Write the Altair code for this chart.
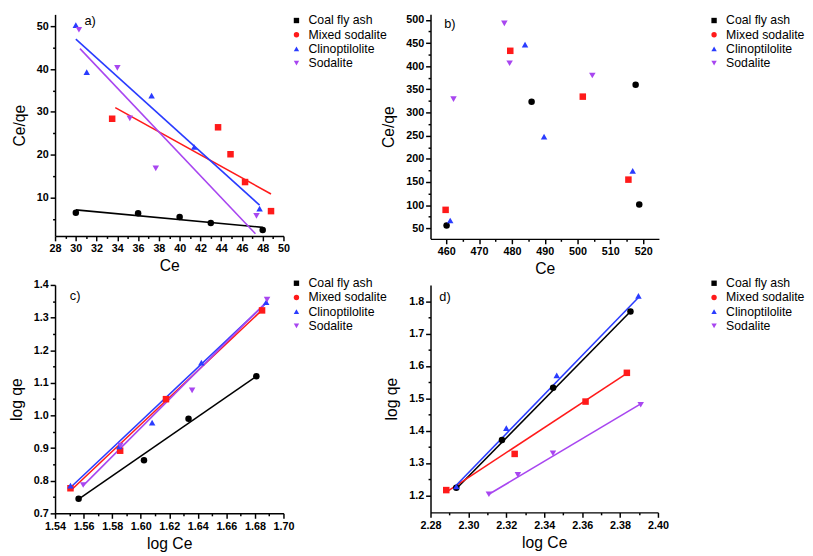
import json
import altair as alt
import pandas as pd

series = ["Coal fly ash", "Mixed sodalite", "Clinoptilolite", "Sodalite"]
colors = ["#000000", "#ff1a1a", "#2a3cff", "#a846f0"]
plot_shapes = ["circle", "square", "triangle-up", "triangle-down"]
legend_shapes = ["square", "circle", "triangle-up", "triangle-down"]

# ---- panel a) Ce vs Ce/qe ----
a_x = [[30, 36, 40, 43, 48],
       [33.5, 43.7, 44.9, 46.3, 48.8],
       [30.0, 31.05, 37.3, 41.4, 47.7],
       [30.3, 34.0, 35.2, 37.7, 47.4]]
a_y = [[6.4, 6.3, 5.4, 4.0, 2.4],
       [28.4, 26.4, 20.1, 13.6, 6.8],
       [50.3, 39.3, 33.8, 21.8, 7.4],
       [49.2, 40.3, 28.5, 16.8, 5.7]]
a_fit_x = [[30, 48], [33.8, 48.8], [30.0, 47.7], [30.4, 47.3]]
a_fit_y = [[7.1, 3.0], [31.0, 10.8], [47.0, 8.2], [44.8, 1.5]]

# ---- panel b) Ce vs Ce/qe ----
b_x = [[460.1, 486.0, 517.7, 518.8],
       [459.8, 479.5, 501.6, 515.5],
       [461.2, 484.0, 489.8, 516.8],
       [462.2, 477.7, 479.3, 504.5]]
b_y = [[56, 323.5, 360, 101],
       [89.7, 433.3, 334.3, 155],
       [66.8, 446.8, 248, 174],
       [329, 492.6, 406.4, 380]]

# ---- panel c) log Ce vs log qe ----
c_x = [[1.5565, 1.6023, 1.6335, 1.681],
       [1.5508, 1.5856, 1.6177, 1.685],
       [1.5508, 1.585, 1.608, 1.6425, 1.6879],
       [1.5597, 1.5857, 1.636, 1.6885]]
c_y = [[0.745, 0.863, 0.99, 1.12],
       [0.777, 0.892, 1.05, 1.322],
       [0.785, 0.905, 0.978, 1.162, 1.347],
       [0.787, 0.908, 1.077, 1.355]]
c_fit_x = [[1.556, 1.681], [1.551, 1.685], [1.551, 1.688], [1.5597, 1.6885]]
c_fit_y = [[0.742, 1.12], [0.77, 1.323], [0.78, 1.345], [0.785, 1.35]]

# ---- panel d) log Ce vs log qe ----
d_x = [[2.2936, 2.3177, 2.3447, 2.3855],
       [2.2883, 2.3244, 2.3618, 2.3836],
       [2.2936, 2.32, 2.3466, 2.3897],
       [2.3108, 2.3261, 2.3446, 2.3909]]
d_y = [[1.223, 1.371, 1.533, 1.769],
       [1.216, 1.328, 1.49, 1.579],
       [1.227, 1.408, 1.571, 1.817],
       [1.203, 1.263, 1.33, 1.48]]
d_fit_x = [[2.2936, 2.3855], [2.2883, 2.3836], [2.2936, 2.3897], [2.3108, 2.3909]]
d_fit_y = [[1.220, 1.769], [1.21, 1.577], [1.231, 1.812], [1.203, 1.483]]

# ---- tick values ----
a_xmaj = [28, 30, 32, 34, 36, 38, 40, 42, 44, 46, 48, 50]
a_xmin = [29, 31, 33, 35, 37, 39, 41, 43, 45, 47, 49]
a_ymaj = [10, 20, 30, 40, 50]
a_ymin = [5, 15, 25, 35, 45]
b_xmaj = [460, 470, 480, 490, 500, 510, 520]
b_xmin = [465, 475, 485, 495, 505, 515]
b_ymaj = [50, 100, 150, 200, 250, 300, 350, 400, 450, 500]
b_ymin = [75, 125, 175, 225, 275, 325, 375, 425, 475]
c_xmaj = [1.54, 1.56, 1.58, 1.60, 1.62, 1.64, 1.66, 1.68, 1.70]
c_xmin = [1.55, 1.57, 1.59, 1.61, 1.63, 1.65, 1.67, 1.69]
c_ymaj = [0.7, 0.8, 0.9, 1.0, 1.1, 1.2, 1.3, 1.4]
c_ymin = [0.75, 0.85, 0.95, 1.05, 1.15, 1.25, 1.35]
d_xmaj = [2.28, 2.30, 2.32, 2.34, 2.36, 2.38, 2.40]
d_xmin = [2.29, 2.31, 2.33, 2.35, 2.37, 2.39]
d_ymaj = [1.2, 1.3, 1.4, 1.5, 1.6, 1.7, 1.8]
d_ymin = [1.25, 1.35, 1.45, 1.55, 1.65, 1.75]

FONT = "Liberation Sans"


def long_df(xs_list, ys_list):
    rows = []
    for s, xs, ys in zip(series, xs_list, ys_list):
        for x, y in zip(xs, ys):
            rows.append({"series": s, "x": x, "y": y})
    return pd.DataFrame(rows)


def make_axis(major, minor, fmt, title, tpad):
    vals = sorted(major + minor)
    test = "indexof(" + json.dumps(major) + ", datum.value) >= 0"
    return alt.Axis(values=vals, format=fmt,
                    labelExpr=test + " ? datum.label : ''",
                    tickSize={"condition": {"test": test, "value": 5}, "value": 2.5},
                    labelOverlap=False, labelFlush=False,
                    title=title, titlePadding=tpad)


def panel(pts, fits, xdom, ydom, xaxis, yaxis, label, lx, ly, w, h, legx, legy):
    X = alt.X("x:Q", scale=alt.Scale(domain=xdom, nice=False, zero=False), axis=xaxis)
    Y = alt.Y("y:Q", scale=alt.Scale(domain=ydom, nice=False, zero=False), axis=yaxis)
    cscale = alt.Scale(domain=series, range=colors)
    legend = alt.Legend(title=None, symbolOpacity=1, orient="none", legendX=legx, legendY=legy)
    layers = []
    if fits is not None:
        layers.append(
            alt.Chart(fits).mark_line(strokeWidth=1.6).encode(
                X, Y, detail="series:N",
                color=alt.Color("series:N", scale=cscale, legend=None)))
    layers.append(
        alt.Chart(pts).mark_point(filled=True, size=44, opacity=1).encode(
            X, Y,
            color=alt.Color("series:N", scale=cscale, legend=None),
            shape=alt.Shape("series:N", scale=alt.Scale(domain=series, range=plot_shapes), legend=None)))
    layers.append(
        alt.Chart(pts).mark_point(filled=True, size=44, opacity=0).encode(
            X, Y,
            color=alt.Color("series:N", scale=cscale, legend=legend),
            shape=alt.Shape("series:N", scale=alt.Scale(domain=series, range=legend_shapes), legend=legend)))
    layers.append(
        alt.Chart(pd.DataFrame({"t": [label]})).mark_text(
            align="left", baseline="middle", fontSize=13, font=FONT, color="black").encode(
            text="t:N", x=alt.value(lx), y=alt.value(ly)))
    return alt.layer(*layers).resolve_scale(color="independent", shape="independent").properties(width=w, height=h)


pa = panel(long_df(a_x, a_y), long_df(a_fit_x, a_fit_y), [28, 50], [1, 52.8],
           make_axis(a_xmaj, a_xmin, "d", "Ce", 4), make_axis(a_ymaj, a_ymin, "d", "Ce/qe", 9),
           "a)", 30, 7, 233, 226, 240, 0)
pb = panel(long_df(b_x, b_y), None, [455.2, 524.8], [27, 512],
           make_axis(b_xmaj, b_xmin, "d", "Ce", 4), make_axis(b_ymaj, b_ymin, "d", "Ce/qe", 9),
           "b)", 14, 10, 233, 229, 283, 0)
pc = panel(long_df(c_x, c_y), long_df(c_fit_x, c_fit_y), [1.54, 1.70], [0.7, 1.4],
           make_axis(c_xmaj, c_xmin, ".2f", "log Ce", 5), make_axis(c_ymaj, c_ymin, ".1f", "log qe", 9),
           "c)", 15, 11, 233, 233, 240, -8)
pd_ = panel(long_df(d_x, d_y), long_df(d_fit_x, d_fit_y), [2.28, 2.40], [1.147, 1.851],
            make_axis(d_xmaj, d_xmin, ".2f", "log Ce", 5), make_axis(d_ymaj, d_ymin, ".1f", "log qe", 9),
            "d)", 9, 12, 232, 232, 283, -8)

res = dict(color="independent", shape="independent", x="independent", y="independent")
leg = dict(color="independent", shape="independent")

chart = alt.concat(pa, pb, pc, pd_, columns=2, spacing={"row": 47, "column": 150}, bounds="flush").resolve_scale(**res).resolve_legend(**leg).properties(
    padding={"left": 0, "top": 0, "right": 0, "bottom": 0}
).configure_view(stroke=None).configure_axis(
    domainColor="black", domainWidth=1.5, tickColor="black", tickWidth=1.5,
    labelFont=FONT, labelFontSize=11, labelFontWeight="bold", labelColor="black", labelPadding=2,
    titleFont=FONT, titleFontSize=16, titleFontWeight="normal", titleColor="black", grid=False
).configure_legend(
    labelFont=FONT, labelFontSize=12.5, labelColor="black", symbolSize=30,
    rowPadding=1.5, labelOffset=6, padding=0
)

chart.save("out.html", embed_options={"renderer": "svg", "actions": False})
